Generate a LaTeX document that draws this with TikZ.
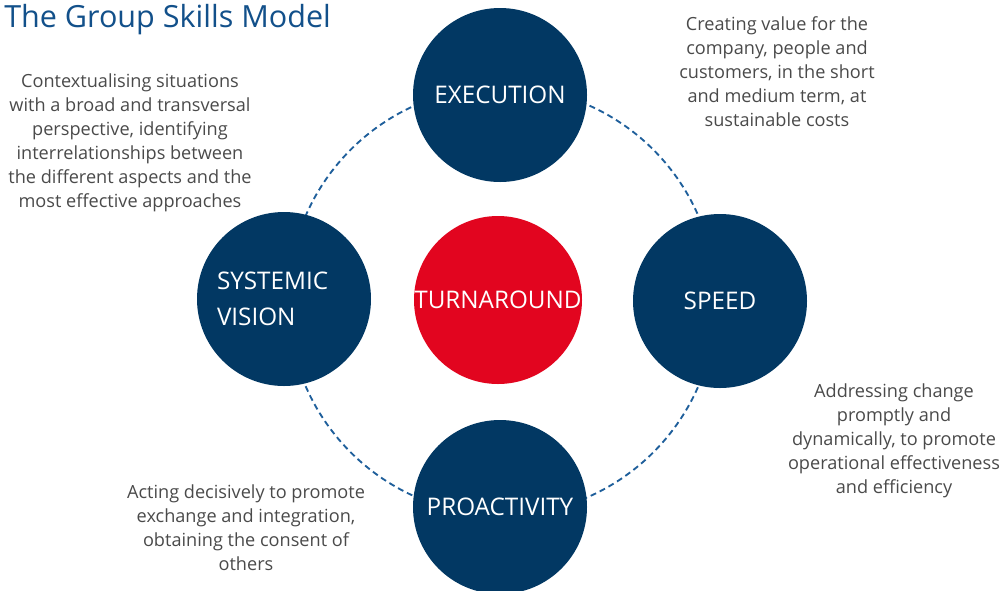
\documentclass[tikz,border=0pt]{standalone}
\usepackage{fontspec}
\setmainfont{Open Sans}
\usetikzlibrary{backgrounds}
\definecolor{skillnavy}{HTML}{023863}
\definecolor{skillred}{HTML}{E2051F}
\definecolor{ringblue}{HTML}{1F5F9B}
\definecolor{titleblue}{HTML}{12508A}
\definecolor{notegray}{HTML}{4A4A4A}
\begin{document}
\begin{tikzpicture}[x=0.75pt,y=-0.75pt,
        skill/.style={circle, fill=skillnavy, text=white, minimum size=130.5pt, inner sep=0pt, font=\fontsize{18.2}{27}\selectfont},
        core/.style={skill, fill=skillred, minimum size=126pt},
        note/.style={align=center, text=notegray, inner sep=0pt, font=\fontsize{13.6}{18}\selectfont},
        ring/.style={draw=ringblue, line width=1.4pt, dash pattern=on 4.5pt off 3pt}]
    \useasboundingbox (0,0) rectangle (1003,590);
    \node[anchor=base west, inner sep=0pt, text=titleblue, font=\fontsize{22.9}{26}\selectfont] (title) at (4,27) {The Group Skills Model};
    \coordinate (hub) at (502,301);
    \draw[ring] (hub) circle[radius=160.5pt];
    \node[skill] (execution) at (500,95) {EXECUTION};
    \node[skill] (speed) at (720,301) {SPEED};
    \node[skill] (proactivity) at (500,507) {PROACTIVITY};
    \node[skill, text width=100.5pt, align=left] (systemic) at (284,299) {SYSTEMIC\\VISION};
    \node[core] (turnaround) at (498,300) {TURNAROUND};
    % descriptions
    \node[note] (execnote) at (777,72) {Creating value for the\\company, people and\\customers, in the short\\and medium term, at\\sustainable costs};
    \node[note] (sysnote) at (130,143) {Contextualising situations\\with a broad and transversal\\perspective, identifying\\interrelationships between\\the different aspects and the\\most effective approaches};
    \node[note] (speednote) at (894,441) {Addressing change\\promptly and\\dynamically, to promote\\operational effectiveness\\and efficiency};
    \node[note] (pronote) at (246,528) {Acting decisively to promote\\exchange and integration,\\obtaining the consent of\\others};
\end{tikzpicture}
\end{document}
